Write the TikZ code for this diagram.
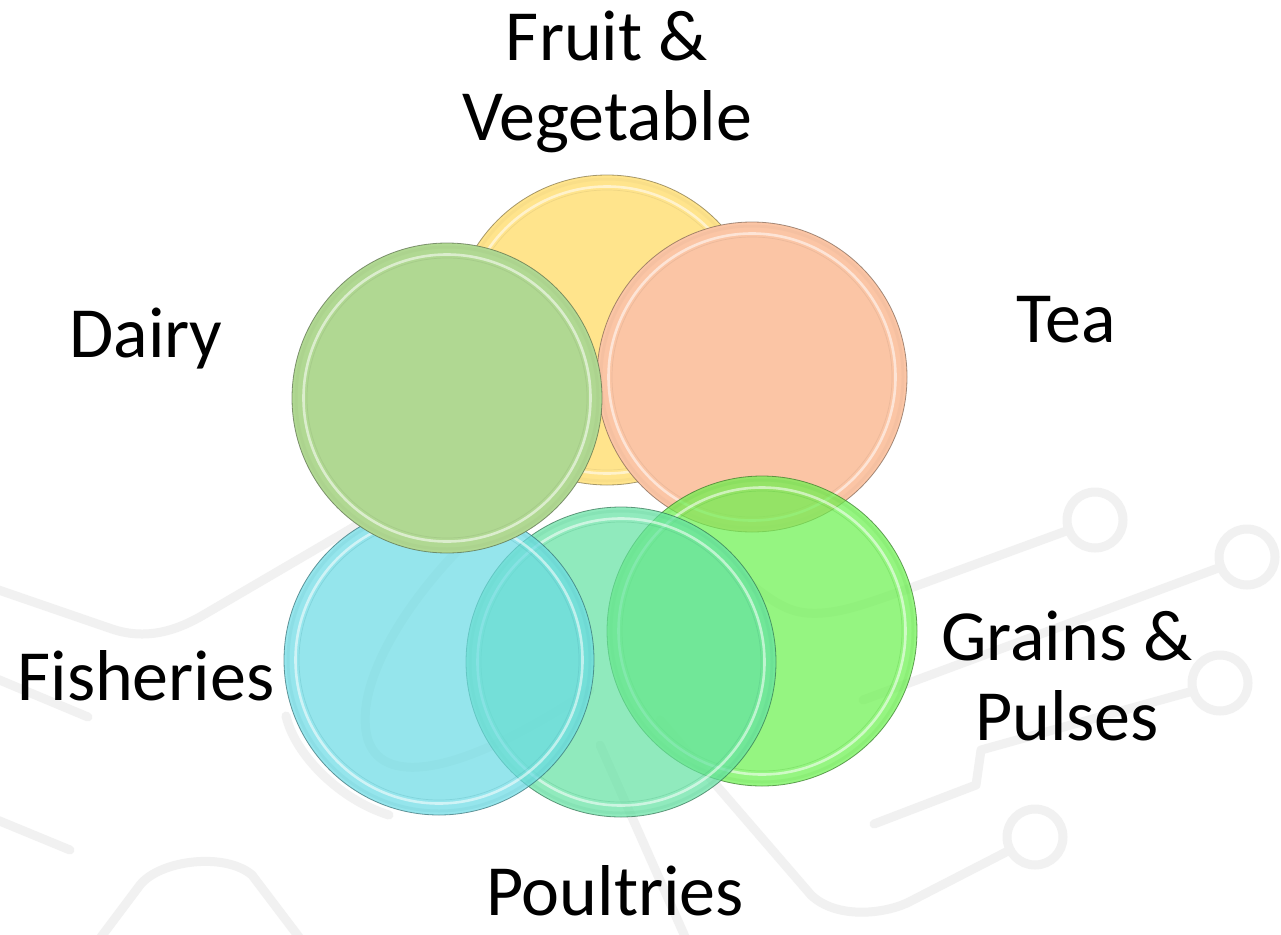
\documentclass[tikz,border=0pt]{standalone}
\usepackage{fontspec}
\setmainfont{Carlito}
\definecolor{fruitc}{RGB}{255,228,140}
\definecolor{dairyc}{RGB}{176,216,146}
\definecolor{teac}{RGB}{251,197,165}
\definecolor{fishc}{RGB}{105,219,228}
\definecolor{poultc}{RGB}{98,226,162}
\definecolor{grainc}{RGB}{105,241,76}
\definecolor{tracec}{RGB}{241,241,241}
% one glossy disc: name, centre, colour, fill opacity
\newcommand\glossdisc[4]{%
  \node[disc, fill=#3, fill opacity=#4, draw=#3!50!black, draw opacity=0.7] (#1) at (#2) {};
  \draw[#3!80!black, line width=0.7pt, opacity=0.3] (#1.center) circle (140pt);
  \draw[white, line width=2.6pt, opacity=0.55] (#1.center) circle (143.5pt);
  \draw[#3!85!black, line width=3pt, opacity=0.15] (#1.center) circle (151pt);
}
\begin{document}
\begin{tikzpicture}[x=1pt,y=-1pt,
  trace/.style={draw=tracec, line width=9pt, line cap=round, line join=round},
  pad/.style={draw=tracec, line width=9pt},
  disc/.style={circle, inner sep=0pt, minimum size=310pt, line width=0.8pt},
  label/.style={font=\fontsize{72}{80}\selectfont, align=center, text=black, inner sep=0pt}
]
\useasboundingbox[fill=white] (0,0) rectangle (1281,934);

% circuit traces in the background
\draw[pad] (1095,520) circle (28pt);
\draw[trace] (1069,530) -- (905,590) .. controls (860,606) and (835,615) .. (807,613)
  .. controls (785,611) and (770,600) .. (735,572);
\draw[pad] (1247,557) circle (28pt);
\draw[trace] (1221,567) -- (863,700);
\draw[pad] (1220,683) circle (28pt);
\draw[trace] (1193,691) -- (981,750) -- (976,785) -- (874,824);
\draw[pad] (1035,837) circle (28pt);
\draw[trace] (1010,850) -- (907,903) .. controls (880,915) and (835,918) .. (811,895) -- (660,720);
\draw[trace] (600,745) -- (690,948);
\draw[trace] (-10,587) -- (112,629) .. controls (145,640) and (175,632) .. (205,614) -- (400,500);
\draw[trace] (490,520) .. controls (420,580) and (350,680) .. (368,740)
  .. controls (385,790) and (470,770) .. (590,690);
\draw[trace] (286,716) .. controls (295,755) and (340,800) .. (389,815);
\draw[trace] (-10,676) -- (88,717);
\draw[trace] (-10,817) -- (70,850);
\draw[trace] (95,945) -- (140,885) .. controls (160,860) and (225,852) .. (252,875) -- (305,945);

% the six sector discs
\glossdisc{fruit}{607,330}{fruitc}{1}
\glossdisc{tea}{752,377}{teac}{1}
\glossdisc{grain}{762,631}{grainc}{0.7}
\glossdisc{poult}{621,662}{poultc}{0.7}
\glossdisc{fish}{439,660}{fishc}{0.7}
\glossdisc{dairy}{447,398}{dairyc}{1}

% sector names
\node[label, anchor=base] (fruitlbl) at (607,140) {Fruit \&\\Vegetable};
\node[label, anchor=base] (dairylbl) at (146,357) {Dairy};
\node[label, anchor=base] (tealbl) at (1066,342) {Tea};
\node[label, anchor=base] (grainlbl) at (1067,740) {Grains \&\\Pulses};
\node[label, anchor=base] (fishlbl) at (146,700) {Fisheries};
\node[label, anchor=base] (poultlbl) at (615,915) {Poultries};
\end{tikzpicture}
\end{document}
